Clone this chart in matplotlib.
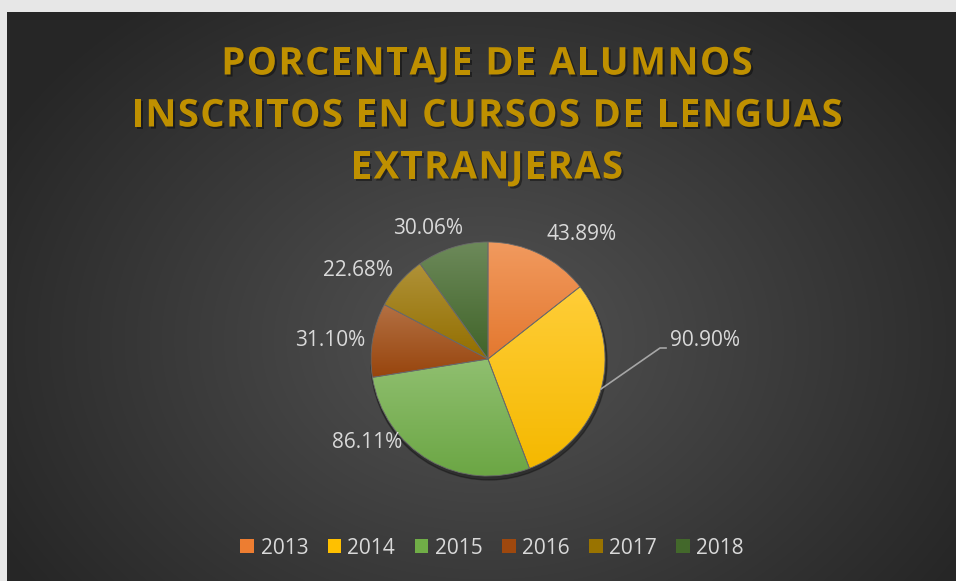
import numpy as np
import matplotlib
matplotlib.use("Agg")
import matplotlib.pyplot as plt
from matplotlib.patches import Patch, Circle
from matplotlib.colors import to_rgb
from matplotlib import font_manager, ft2font
import matplotlib.patheffects as pe

# ---- data ----
years = ["2013", "2014", "2015", "2016", "2017", "2018"]
values = [43.89, 90.90, 86.11, 31.10, 22.68, 30.06]
labels = ["43.89%", "90.90%", "86.11%", "31.10%", "22.68%", "30.06%"]
colors = ["#ed7d31", "#ffc000", "#70ad47", "#9e480e", "#997300", "#43682b"]
title_lines = ["PORCENTAJE DE ALUMNOS", "INSCRITOS EN CURSOS DE LENGUAS", "EXTRANJERAS"]

W, H = 956, 581
fig = plt.figure(figsize=(W / 100, H / 100), dpi=100)
fig.patch.set_facecolor("#e7e7e7")
ax = fig.add_axes([0, 0, 1, 1])

def py(y):  # pixel-from-top to data y
    return H - y

# pie
center = (488, py(359))
R = 117
wedges, _ = ax.pie(values, colors=colors, startangle=90, counterclock=False,
                   center=center, radius=R, frame=True,
                   wedgeprops=dict(linewidth=0.6, edgecolor="#6a6a6a"))
ax.set_xlim(0, W)
ax.set_ylim(0, H)
ax.set_aspect("equal")
ax.axis("off")

# background panel with radial gradient
px0, py0 = 7, 12
yy, xx = np.mgrid[0:H - py0, 0:W - px0]
cx, cy = 485 - px0, 340 - py0
d = np.sqrt(((xx - cx) / 560.0) ** 2 + ((yy - cy) / 430.0) ** 2)
d = np.clip(d, 0, 1)
c_in = np.array(to_rgb("#535353"))
c_out = np.array(to_rgb("#262626"))
img = c_in[None, None, :] * (1 - d[..., None]) + c_out[None, None, :] * d[..., None]
ax.imshow(img, extent=(px0, W, 0, py(py0)), origin="upper", zorder=0, interpolation="bilinear")
ax.set_xlim(0, W)
ax.set_ylim(0, H)

# title with letter spacing (tracking)
fp = font_manager.FontProperties(family="Open Sans", weight="bold")
fpath = font_manager.findfont(fp)
TSIZE = 27.5
font = ft2font.FT2Font(fpath)
font.set_size(TSIZE, 100)
try:
    NOH = ft2font.LoadFlags.NO_HINTING
except AttributeError:
    NOH = ft2font.LOAD_NO_HINTING
track = 1.35

def advances(s):
    xs, x = [], 0.0
    for ch in s:
        xs.append(x)
        g = font.load_char(ord(ch), flags=NOH)
        x += g.linearHoriAdvance / 65536.0 + track
    return xs, x - track

shadow = [pe.withSimplePatchShadow(offset=(1.5, -1.5), shadow_rgbFace="black", alpha=0.4)]
line_y = [60, 112, 164]
for s, yl in zip(title_lines, line_y):
    xs, total = advances(s)
    x0 = 487 - total / 2
    for ch, xo in zip(s, xs):
        if ch == " ":
            continue
        ax.text(x0 + xo, py(yl), ch, ha="left", va="center_baseline", fontsize=TSIZE,
                fontproperties=fp, color="#bf9000", zorder=5, path_effects=shadow)

# shadow under pie
ax.add_patch(Circle((center[0] + 1, center[1] - 3), R + 1, color="black", alpha=0.3, zorder=1))

def lighten(c, f):
    c = np.array(to_rgb(c))
    return c + (1 - c) * f

for w, col in zip(wedges, colors):
    bb = w.get_path().get_extents(w.get_transform() - ax.transData)
    n = 64
    top = lighten(col, 0.22)
    bot = np.array(to_rgb(col)) * 0.96
    t = np.linspace(0, 1, n)[:, None]
    grad = (top[None, :] * (1 - t) + bot[None, :] * t)[:, None, :]
    im = ax.imshow(grad, extent=(bb.x0, bb.x1, bb.y0, bb.y1), origin="upper",
                   aspect="auto", zorder=3, interpolation="bilinear")
    im.set_clip_path(w)
    w.set_facecolor("none")
    w.set_zorder(4)
ax.set_xlim(0, W)
ax.set_ylim(0, H)

# data labels
lab_pos = [(547, 234, "left"), (670, 340, "left"), (402, 443, "right"),
           (365, 340, "right"), (393, 270, "right"), (463, 228, "right")]
for (x, y, ha), s in zip(lab_pos, labels):
    ax.text(x, py(y), s, ha=ha, va="center", fontsize=15, family="Open Sans",
            color="#d9d9d9", zorder=6)

# leader line for 2014
ax.plot([601, 660, 666], [py(389), py(348), py(348)], color="#a6a6a6", lw=1.2, zorder=5)

# legend
handles = [Patch(facecolor=c, edgecolor="none") for c in colors]
leg = ax.legend(handles, years, loc="center", bbox_to_anchor=(492 / W, 1 - 548 / H),
                ncol=6, frameon=False, fontsize=15, handlelength=0.66, handleheight=0.66,
                handletextpad=0.3, columnspacing=0.93, borderaxespad=0)
for t in leg.get_texts():
    t.set_color("#d9d9d9")
    t.set_family("Open Sans")

fig.savefig("out.png", dpi=100, facecolor=fig.get_facecolor())
